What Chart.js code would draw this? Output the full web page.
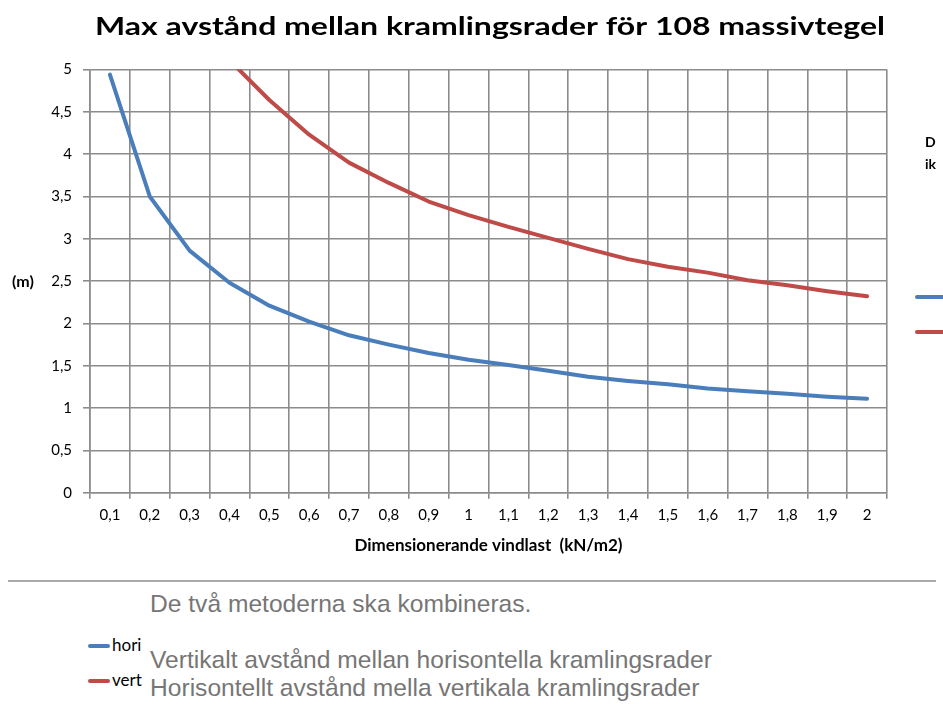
<!DOCTYPE html>
<html>
<head>
<meta charset="utf-8">
<script src="https://cdn.jsdelivr.net/npm/chart.js@4.4.1/dist/chart.umd.min.js"></script>
<style>
  body { margin: 0; background: #fff; width: 943px; height: 704px; overflow: hidden; position: relative; }
  #wrap { position: absolute; left: 0; top: 0; }
  .rule { position: absolute; left: 8px; top: 580px; width: 928px; height: 2px; background: #a9a9a9; }
  .note { position: absolute; left: 150px; font-family: "Liberation Sans", Arial, sans-serif; font-size: 24.6px; line-height: 24px; color: #767676; white-space: nowrap; }
  .swatch { position: absolute; left: 88px; width: 22px; height: 4px; border-radius: 2px; }
  .name { position: absolute; left: 112px; font-family: Lato, sans-serif; font-size: 17px; line-height: 15px; color: #000; }
</style>
</head>
<body>
<div id="wrap"><canvas id="chart" width="943" height="570"></canvas></div>
<div class="rule"></div>
<div id="bottomLegend"></div>

<script>
var blue = "#4a7ebb";
var red = "#be4b48";
var gridGray = "#8c8c8c";

// Dimensionerande vindlast (kN/m2)
var loads = ["0,1", "0,2", "0,3", "0,4", "0,5", "0,6", "0,7", "0,8", "0,9", "1",
  "1,1", "1,2", "1,3", "1,4", "1,5", "1,6", "1,7", "1,8", "1,9", "2"];

// Avstånd (m)
var hori = [4.94, 3.50, 2.86, 2.48, 2.21, 2.02, 1.86, 1.75, 1.65, 1.57,
  1.51, 1.44, 1.37, 1.32, 1.28, 1.23, 1.20, 1.17, 1.135, 1.11];
var vert = [null, null, null, 5.11, 4.64, 4.23, 3.90, 3.66, 3.44, 3.28,
  3.14, 3.01, 2.88, 2.76, 2.67, 2.60, 2.51, 2.45, 2.38, 2.32];

var seriesNames = ["hori", "vert"];
var seriesColors = [blue, red];
var seriesNotes = [
  "Vertikalt avstånd mellan horisontella kramlingsrader",
  "Horisontellt avstånd mella vertikala kramlingsrader"
];
var legendTitle = "De två metoderna ska kombineras.";
var sideLegendTitle = ["D", "ik"];

var chartTitle = "Max avstånd mellan kramlingsrader för 108 massivtegel";
var yTitle = "(m)";
var xTitle = "Dimensionerande vindlast  (kN/m2)";

// Titel, y-titel och den avklippta legenden till höger
var extras = {
  id: "extras",
  afterDraw(chart) {
    let ctx = chart.ctx;
    let area = chart.chartArea;
    ctx.save();
    ctx.fillStyle = "#000";
    ctx.textBaseline = "alphabetic";
    ctx.font = "bold 25px Lato";
    // titeln är utdragen i bredd i originalet
    let w = ctx.measureText(chartTitle).width;
    let sx = 790 / w;
    ctx.save();
    ctx.translate(95, 35);
    ctx.scale(sx, 1);
    ctx.textAlign = "left";
    ctx.fillText(chartTitle, 0, 0);
    ctx.restore();

    ctx.textAlign = "left";
    ctx.textBaseline = "middle";
    ctx.font = "bold 16px Lato";
    ctx.fillText(yTitle, 12, (area.top + area.bottom) / 2 + 1);

    ctx.textBaseline = "alphabetic";
    ctx.font = "bold 14px Lato";
    ctx.fillText(sideLegendTitle[0], 925, 147);
    ctx.fillText(sideLegendTitle[1], 925, 169);

    ctx.lineWidth = 4;
    ctx.lineCap = "round";
    chart.data.datasets.forEach((ds, i) => {
      let y = 297 + i * 35;
      ctx.strokeStyle = ds.borderColor;
      ctx.beginPath();
      ctx.moveTo(917, y);
      ctx.lineTo(960, y);
      ctx.stroke();
    });
    ctx.restore();
  }
};

const ctx = document.getElementById("chart");
var chart = new Chart(ctx, {
  type: "line",
  data: {
    labels: loads,
    datasets: [
      {
        label: seriesNames[0],
        data: hori,
        borderColor: blue,
        backgroundColor: blue,
        borderWidth: 4,
        tension: 0,
      },
      {
        label: seriesNames[1],
        data: vert,
        borderColor: red,
        backgroundColor: red,
        borderWidth: 4,
        tension: 0,
      },
    ],
  },
  options: {
    responsive: false,
    animation: false,
    layout: {
      padding: { top: 69.5, right: 56, bottom: 0, left: 0 },
    },
    elements: {
      point: { radius: 0 },
      line: { borderCapStyle: "round", borderJoinStyle: "round" },
    },
    plugins: {
      legend: { display: false },
      title: { display: false },
      tooltip: { enabled: false },
    },
    scales: {
      x: {
        offset: true,
        grid: { offset: true, color: gridGray, lineWidth: 1.6, tickLength: 6 },
        border: { color: gridGray, width: 1.6 },
        ticks: { color: "#000", font: { family: "Lato", size: 15 }, padding: 7, maxRotation: 0, autoSkip: false },
        title: {
          display: true,
          text: xTitle,
          color: "#000",
          font: { family: "Lato", size: 17, weight: "bold" },
          padding: { top: 0, bottom: 14 },
        },
        afterFit(scale) {
          scale.height = 77.3;
        },
      },
      y: {
        min: 0,
        max: 5,
        grid: { color: gridGray, lineWidth: 1.6, tickLength: 7 },
        border: { color: gridGray, width: 1.6 },
        ticks: {
          stepSize: 0.5,
          color: "#000",
          font: { family: "Lato", size: 15 },
          padding: 11,
          callback: (v) => String(v).replace(".", ","),
        },
        afterFit(scale) {
          scale.width = 90;
        },
      },
    },
  },
  plugins: [extras],
});

// Legenden under diagrammet
function buildBottomLegend() {
  let box = document.getElementById("bottomLegend");
  let head = document.createElement("div");
  head.className = "note";
  head.style.top = "592px";
  head.innerHTML = legendTitle;
  box.appendChild(head);

  for (let i = 0; i < seriesNames.length; i++) {
    let swatch = document.createElement("div");
    swatch.className = "swatch";
    swatch.style.top = (644 + i * 35) + "px";
    swatch.style.background = seriesColors[i];
    box.appendChild(swatch);

    let name = document.createElement("div");
    name.className = "name";
    name.style.top = (637 + i * 35) + "px";
    name.innerHTML = seriesNames[i];
    box.appendChild(name);

    let note = document.createElement("div");
    note.className = "note";
    note.style.top = (648 + i * 28) + "px";
    note.innerHTML = seriesNotes[i];
    box.appendChild(note);
  }
}
buildBottomLegend();
</script>
</body>
</html>
